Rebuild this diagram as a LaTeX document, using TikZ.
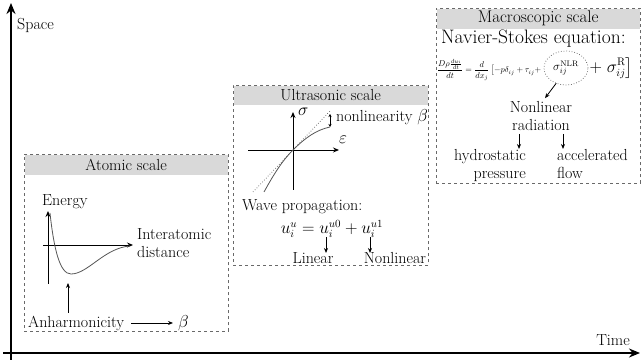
\documentclass[tikz,border=0pt]{standalone}
\usepackage{amsmath}
\usetikzlibrary{arrows.meta,shapes.geometric}
\definecolor{hdrgray}{RGB}{217,217,217}
\definecolor{boxgray}{RGB}{105,105,105}
\definecolor{curvegray}{RGB}{85,85,85}
\newcommand\fsz{\fontsize{16}{18}\selectfont}
\tikzset{
  txt/.style={inner sep=0pt, font=\fsz},
  scalebox/.style={draw=boxgray, dashed, line width=0.8pt, inner sep=0pt},
  hdr/.style={fill=hdrgray, inner sep=0pt, font=\fsz},
  axis/.style={-{Stealth[length=6pt,width=5pt]}, line width=0.9pt},
  bigaxis/.style={-{Stealth[length=11pt,width=9pt]}, line width=2pt},
  smallarr/.style={-{Stealth[length=5pt,width=4pt]}, line width=0.8pt},
}
\begin{document}
\begin{tikzpicture}[x=1pt,y=-1pt]
\useasboundingbox (0,0) rectangle (641,363);
% main axes
\coordinate (top) at (11,3);
\coordinate (right) at (640,353);
\coordinate (ob) at (11,360);
\coordinate (ol) at (3,353);
\draw[bigaxis] (ob) -- (top);
\draw[bigaxis] (ol) -- (right);
\node[txt, anchor=west] (space) at (17,25) {Space};
\node[txt, anchor=east] (time) at (630,340) {Time};

% ---------- Atomic scale ----------
\node[hdr, anchor=north west, minimum width=203pt, minimum height=20pt] (atomh) at (24.5,154.5) {Atomic scale};
\node[scalebox, anchor=north west, minimum width=204pt, minimum height=177pt] (atombox) at (24,154) {};
\coordinate (eb) at (48,284);
\coordinate (et) at (48,211);
\coordinate (xl) at (43,245);
\coordinate (xr) at (133,245);
\draw[axis] (eb) -- (et);
\draw[axis] (xl) -- (xr);
\node[txt, anchor=west] (energy) at (42,202) {Energy};
\node[txt, anchor=west, align=left] (inter) at (137,243) {Interatomic\\distance};
\draw[curvegray, line width=0.8pt] (50,213) .. controls (54,250) and (60,274) .. (71,274)
  .. controls (88,274) and (104,248) .. (130,246);
\node[txt, anchor=west] (anh) at (28,323) {Anharmonicity};
\node[txt, anchor=west] (beta1) at (178,323) {$\beta$};
\coordinate (anhtop) at (68,283);
\draw[smallarr] (anh.north -| anhtop) ++(0,-3) coordinate (anhs) -- (anhtop);
\draw[smallarr] (anh.east) ++(7,0) -- ([xshift=-5pt]beta1.west);

% ---------- Ultrasonic scale ----------
\node[hdr, anchor=north west, minimum width=194pt, minimum height=19pt] (ultrah) at (233.5,85.5) {Ultrasonic scale};
\node[scalebox, anchor=north west, minimum width=195pt, minimum height=180pt] (ultrabox) at (233,85) {};
\coordinate (sb) at (293,190);
\coordinate (st) at (293,112);
\coordinate (el) at (248,150);
\coordinate (er) at (339,150);
\draw[axis] (sb) -- (st);
\draw[axis] (el) -- (er);
\node[txt, anchor=west] (sig) at (298,112) {$\sigma$};
\node[txt, anchor=west] (eps) at (339,140) {$\varepsilon$};
\draw[curvegray, dotted, line width=0.7pt] (253,192) -- (331,110);
\draw[curvegray, line width=0.8pt] (264,192) .. controls (275,172) and (283,160) .. (293,150)
  .. controls (305,138) and (316,130) .. (330,127);
\coordinate (nlt) at (330,114);
\coordinate (nlb) at (330,127);
\draw[{Stealth[length=3pt,width=3pt]}-{Stealth[length=3pt,width=3pt]}, line width=0.6pt] (nlt) -- (nlb);
\node[txt, anchor=west] (nonlin) at (336,117) {nonlinearity $\beta$};
\node[txt, anchor=west] (wave) at (242,207) {Wave propagation:};
\node[txt, anchor=center] (weq) at (332,229) {$u_i^u = u_i^{u0} + u_i^{u1}$};
\node[txt, anchor=north] (lin) at (313,252) {Linear};
\node[txt, anchor=north] (nlin) at (395,252) {Nonlinear};
\coordinate (w1) at (326,238);
\coordinate (w2) at (370,238);
\draw[smallarr] ([yshift=1pt]w1 |- weq.south) -- ([yshift=-1pt]w1 |- lin.north);
\draw[smallarr] ([yshift=1pt]w2 |- weq.south) -- ([yshift=-1pt]w2 |- nlin.north);

% ---------- Macroscopic scale ----------
\node[hdr, anchor=north west, minimum width=203pt, minimum height=20pt] (macroh) at (436.5,8.5) {\fontsize{17}{19}\selectfont Macroscopic scale};
\node[scalebox, anchor=north west, minimum width=204pt, minimum height=175pt] (macrobox) at (436,8) {};
\node[txt, anchor=west] (ns) at (441,39) {\fontsize{19.5}{21}\selectfont Navier-Stokes equation:};
\node[inner sep=0pt, anchor=west] (nsl) at (437,70) {\resizebox{104pt}{!}{$\dfrac{D\rho\frac{du_i}{dt}}{dt} = \dfrac{d}{dx_j}\,\bigl[-p\delta_{ij}+\tau_{ij}+$}};
\node[draw=curvegray, dotted, line width=0.7pt, ellipse, inner sep=0pt, minimum width=44pt, minimum height=34pt, font=\fontsize{11.5}{13}\selectfont] (circ) at (566,68) {$\sigma_{ij}^{\mathrm{NLR}}$};
\node[inner sep=0pt, anchor=west, font=\fontsize{16}{18}\selectfont] (nsr) at ([xshift=1pt]circ.east) {$+\;\sigma_{ij}^{\mathrm{R}}\bigr]$};
\node[txt, align=center] (nlr) at (541,116) {Nonlinear\\radiation};
\draw[smallarr] (circ.south west) ++(6,3) coordinate (cs) -- ([xshift=4pt,yshift=3pt]nlr.north);
\node[txt, align=right, anchor=north east] (hyd) at (526,149) {hydrostatic\\pressure};
\node[txt, align=left, anchor=north west] (acc) at (557,149) {accelerated\\flow};
\coordinate (m1) at (519,134);
\coordinate (m2) at (563,134);
\draw[smallarr] (m1) -- (m1 |- hyd.north);
\draw[smallarr] (m2) -- (m2 |- acc.north);
\end{tikzpicture}
\end{document}
